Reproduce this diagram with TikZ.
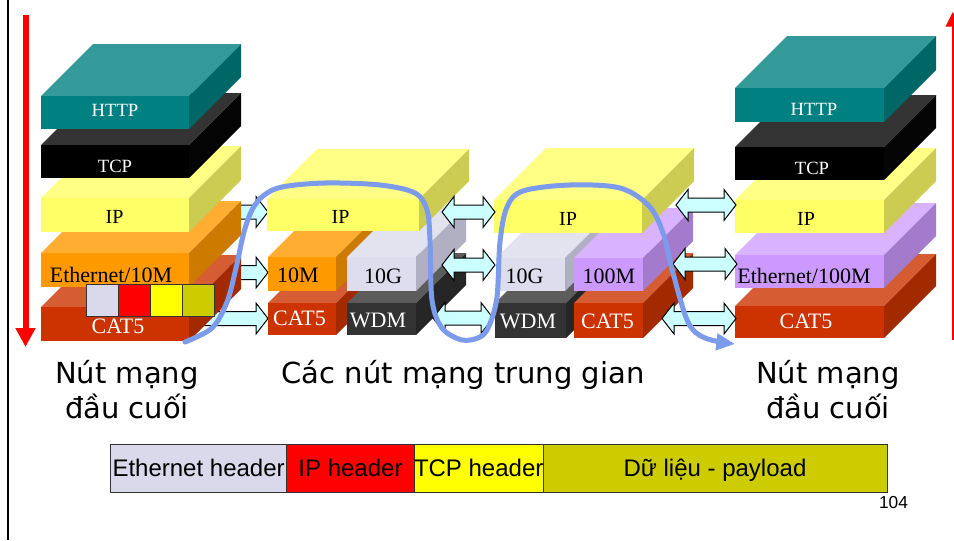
\documentclass[tikz,border=0pt]{standalone}
\usepackage{fontspec}
\setmainfont{Liberation Serif}
\newfontfamily\capfont{DejaVu Sans}
\newfontfamily\arialfont{Liberation Sans}
\usetikzlibrary{arrows.meta}
\definecolor{tealT}{HTML}{339999}\definecolor{tealF}{HTML}{008080}\definecolor{tealS}{HTML}{006666}
\definecolor{blkT}{HTML}{333333}\definecolor{blkF}{HTML}{000000}\definecolor{blkS}{HTML}{050505}
\definecolor{yelT}{HTML}{FFFF85}\definecolor{yelF}{HTML}{FFFF66}\definecolor{yelS}{HTML}{CCCC52}
\definecolor{oraT}{HTML}{FFAD33}\definecolor{oraF}{HTML}{FF9900}\definecolor{oraS}{HTML}{CC7A00}
\definecolor{redT}{HTML}{D65C33}\definecolor{redF}{HTML}{CC3300}\definecolor{redS}{HTML}{A32900}
\definecolor{lavT}{HTML}{E3E3F0}\definecolor{lavF}{HTML}{DDDDEE}\definecolor{lavS}{HTML}{B0B0C2}
\definecolor{wdmT}{HTML}{5C5C5C}\definecolor{wdmF}{HTML}{333333}\definecolor{wdmS}{HTML}{262626}
\definecolor{purT}{HTML}{D9B3FF}\definecolor{purF}{HTML}{CC99FF}\definecolor{purS}{HTML}{A37ACC}
\definecolor{arrfill}{HTML}{CCFFFF}
\definecolor{curvecol}{RGB}{125,155,235}
\definecolor{hdrL}{HTML}{D9D9EB}\definecolor{hdrR}{HTML}{FF0000}\definecolor{hdrY}{HTML}{FFFF00}\definecolor{hdrO}{HTML}{CCCC00}
\definecolor{edgecol}{HTML}{333333}
% 3D block: x0 y0 x1 y1 depth material
\newcommand\blk[6]{%
  \fill[#6T] (#1,#2) -- (#3,#2) -- (#3+#5,#2-#5) -- (#1+#5,#2-#5) -- cycle;
  \fill[#6S] (#3,#2) -- (#3+#5,#2-#5) -- (#3+#5,#4-#5) -- (#3,#4) -- cycle;
  \fill[#6F] (#1,#2) rectangle (#3,#4);
}
% right-pointing block arrow: xstart xtip yc
\newcommand\rarr[3]{%
  \draw[barrow] (#1,#3-7) -- (#2-12,#3-7) -- (#2-12,#3-15.5) -- (#2,#3)
    -- (#2-12,#3+15.5) -- (#2-12,#3+7) -- (#1,#3+7) -- cycle;
}
% double block arrow: xleft xright yc
\newcommand\darr[3]{%
  \draw[barrow] (#1,#3) -- (#1+12,#3-15.5) -- (#1+12,#3-7) -- (#2-12,#3-7) -- (#2-12,#3-15.5) -- (#2,#3)
    -- (#2-12,#3+15.5) -- (#2-12,#3+7) -- (#1+12,#3+7) -- (#1+12,#3+15.5) -- cycle;
}
\tikzset{
  barrow/.style={fill=arrfill, draw=black, line width=0.75pt, line join=miter},
  lbl/.style={font=\fontsize{16.5}{19}\selectfont, anchor=base, inner sep=0pt},
  lbls/.style={font=\fontsize{14}{16}\selectfont, anchor=base, inner sep=0pt},
  lblip/.style={font=\fontsize{15}{17}\selectfont, anchor=base, inner sep=0pt},
  captxt/.style={font=\capfont\fontsize{21.75}{26}\selectfont, anchor=base, inner sep=0pt},
  bartxt/.style={font=\arialfont\fontsize{18}{20}\selectfont, anchor=base, inner sep=0pt},
  barcell/.style={draw=edgecol, line width=0.75pt},
  hdrsq/.style={draw=edgecol, line width=0.75pt}
}
\begin{document}
\begin{tikzpicture}[x=0.75pt,y=-0.75pt]
\fill[white] (0,0) rectangle (954,540);
\useasboundingbox (0,0) rectangle (954,540);
% frame line and red arrows
\draw[line width=1.5pt] (7.5,0) -- (7.5,540);
\draw[red, line width=4.5pt, -{Triangle[length=14.25pt,width=14.25pt]}] (25.5,15) -- (25.5,347);
\draw[red, line width=1.5pt, -{Triangle[length=11pt,width=10.5pt]}] (952.7,340) -- (952.7,12);
% arrows leaving the left stack (behind it)
\rarr{230}{268}{212}
\rarr{230}{268}{272.5}
\rarr{200}{268}{318.5}
% left stack
\blk{41}{307}{189}{341}{52}{red}
\blk{41}{253}{189}{287}{52}{ora}
\blk{41}{198}{189}{232}{52}{yel}
\blk{41}{145}{189}{178}{52}{blk}
\blk{41}{96}{189}{129}{52}{teal}
% middle node 1
\blk{268}{303}{336}{335}{50}{red}
\blk{347}{303}{416}{335}{50}{wdm}
\blk{268}{257}{336}{291}{50}{ora}
\blk{347}{257}{416}{291}{50}{lav}
\blk{267}{199}{419}{231}{50}{yel}
% middle node 2
\blk{495}{303}{566}{338}{50}{wdm}
\blk{574}{303}{643}{338}{50}{red}
\blk{496}{258}{565}{291}{50}{lav}
\blk{574}{258}{643}{291}{50}{pur}
\blk{494}{200}{642}{233}{52}{yel}
% right stack
\blk{735}{306}{884}{338}{52}{red}
\blk{735}{255}{884}{288}{52}{pur}
\blk{735}{200}{884}{233}{52}{yel}
\blk{735}{147}{884}{180}{52}{blk}
\blk{735}{88}{884}{122}{52}{teal}
% double arrows
\darr{442}{495}{212}
\darr{442}{495}{265}
\darr{433}{493}{318}
\darr{676}{736}{205}
\darr{673}{737}{264}
\darr{662}{736}{318.5}
% labels
\node[lbls, text=white] (l-http) at (115,116) {HTTP};
\node[lbls, text=white] (l-tcp) at (115,172) {TCP};
\node[lblip] (l-ip) at (114.5,223) {IP};
\node[lbl] (l-eth) at (111,282) {Ethernet/10M};
\node[lbl, text=white] (l-cat) at (118,333) {CAT5};
\node[lblip] (m1-ip) at (340.5,223) {IP};
\node[lbl] (m1-10m) at (298,282) {10M};
\node[lbl] (m1-10g) at (383,283) {10G};
\node[lbl, text=white] (m1-cat) at (299.5,325.5) {CAT5};
\node[lbl, text=white] (m1-wdm) at (378,327) {WDM};
\node[lblip] (m2-ip) at (568,225) {IP};
\node[lbl] (m2-10g) at (524.5,283) {10G};
\node[lbl] (m2-100m) at (609,283) {100M};
\node[lbl, text=white] (m2-wdm) at (528,328) {WDM};
\node[lbl, text=white] (m2-cat) at (607.5,328) {CAT5};
\node[lbls, text=white] (r-http) at (814,115) {HTTP};
\node[lbls, text=white] (r-tcp) at (812,174) {TCP};
\node[lblip] (r-ip) at (806,225) {IP};
\node[lbl] (r-eth) at (804,283) {Ethernet/100M};
\node[lbl, text=white] (r-cat) at (806,328) {CAT5};
% header squares on the left stack
\draw[hdrsq, fill=hdrL] (86,284) rectangle (118,316);
\draw[hdrsq, fill=hdrR] (118,284) rectangle (150,316);
\draw[hdrsq, fill=hdrY] (150,284) rectangle (182,316);
\draw[hdrsq, fill=hdrO] (182,284) rectangle (214,316);
% path of the packet
\draw[curvecol, line width=3.75pt, line cap=round, -{Triangle[length=14pt,width=12pt]}]
  plot[smooth, tension=0.55] coordinates {(185,342) (212,328) (227,302) (236,268) (244,232) (252,210) (263,196) (282,187) (325,183) (380,185) (415,193) (427,210) (430,240) (432,300) (442,328) (462,340) (480,337) (489,326) (497,297) (500,242) (507,207) (523,191) (570,185) (620,188) (649,206) (663,233) (673,273) (688,322) (705,338) (735,344)};
% captions
\node[captxt] (lc1) at (127,383) {Nút mạng};
\node[captxt] (lc2) at (127,418) {đầu cuối};
\node[captxt] (mc) at (463,383) {Các nút mạng trung gian};
\node[captxt] (rc1) at (828,383) {Nút mạng};
\node[captxt] (rc2) at (828,418) {đầu cuối};
% packet format bar
\draw[barcell, fill=hdrL] (110.5,444) rectangle (286.7,492);
\draw[barcell, fill=hdrR] (286.7,444) rectangle (414.3,492);
\draw[barcell, fill=hdrY] (414.3,444) rectangle (543,492);
\draw[barcell, fill=hdrO] (543,444) rectangle (887,492);
\node[bartxt] (b-eth) at (198.6,476) {Ethernet header};
\node[bartxt] (b-ip) at (350.5,476) {IP header};
\node[bartxt] (b-tcp) at (478.7,476) {TCP header};
\node[bartxt] (b-data) at (715,476) {Dữ liệu - payload};
\node[font=\arialfont\fontsize{13}{15}\selectfont, anchor=base, inner sep=0pt] (pg) at (893.5,508) {104};
\end{tikzpicture}
\end{document}
